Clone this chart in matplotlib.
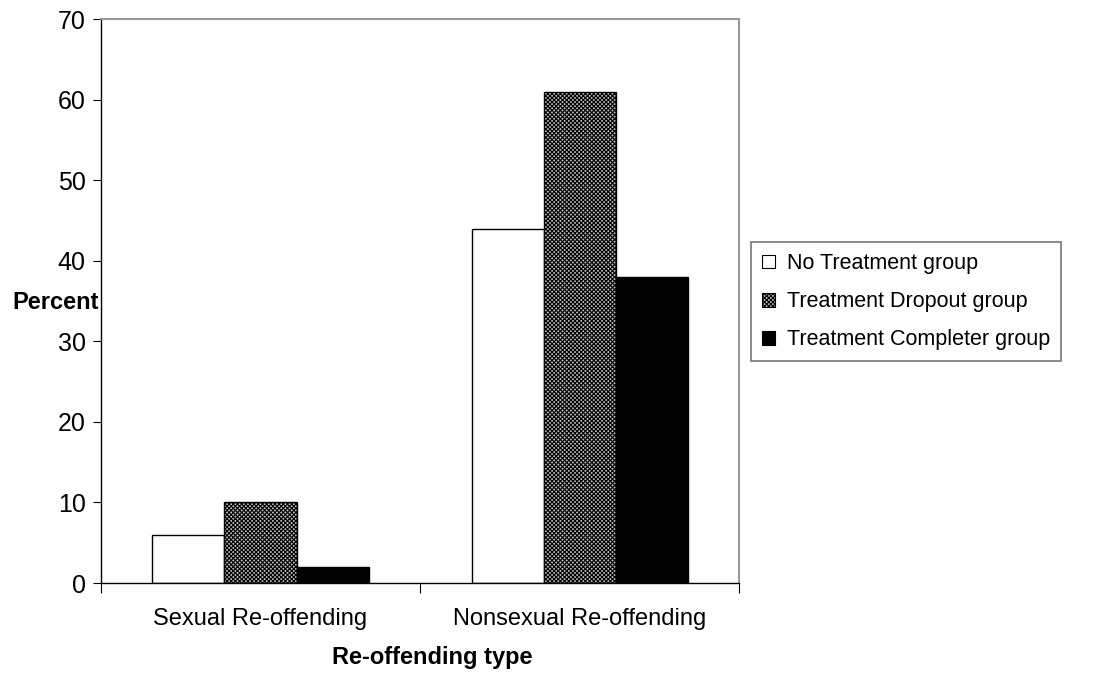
import numpy as np
import matplotlib
matplotlib.use("Agg")
import matplotlib.pyplot as plt
from matplotlib.patches import Patch

plt.rcParams['font.family'] = ['Liberation Sans', 'DejaVu Sans']
plt.rcParams['hatch.linewidth'] = 0.8

categories = ["Sexual Re-offending", "Nonsexual Re-offending"]
groups = ["No Treatment group", "Treatment Dropout group", "Treatment Completer group"]
no_treatment = [6, 44]
dropout = [10, 61]
completer = [2, 38]

fig = plt.figure(figsize=(10.97, 6.73), dpi=100)
ax = fig.add_axes([0.092, 0.1337, 0.582, 0.838])

x = np.arange(len(categories))
w = 0.226
ax.bar(x - w, no_treatment, w, facecolor='white', edgecolor='black', linewidth=1)
ax.bar(x, dropout, w, facecolor='#bbbbbb', edgecolor='black', hatch='xxxxxxxx', linewidth=1)
ax.bar(x + w, completer, w, facecolor='black', edgecolor='black', linewidth=1)

ax.set_xlim(-0.5, 1.5)
ax.set_ylim(0, 70)
ax.set_yticks(range(0, 71, 10))
ax.set_xticks([-0.5, 0.5, 1.5])
ax.set_xticklabels([])
ax.set_xticks(x, minor=True)
ax.set_xticklabels(categories, minor=True)
ax.tick_params(axis='x', which='minor', length=0, pad=18, labelsize=17)
ax.tick_params(axis='x', which='major', length=7, direction='out')
ax.tick_params(axis='y', length=6, direction='out', labelsize=18, pad=5)

for s in ['top', 'right']:
    ax.spines[s].set_color('#999999')
    ax.spines[s].set_linewidth(1.5)
for s in ['left', 'bottom']:
    ax.spines[s].set_color('black')
    ax.spines[s].set_linewidth(1)

ax.set_xlabel("Re-offending type", fontsize=17, fontweight='bold')
ax.xaxis.set_label_coords(0.519, -0.112)
fig.text(0.011, 0.551, "Percent", fontsize=17, fontweight='bold', va='center', ha='left')

handles = [
    Patch(facecolor='white', edgecolor='black', linewidth=0.8),
    Patch(facecolor='#bbbbbb', edgecolor='black', hatch='xxxxxxxx', linewidth=0.8),
    Patch(facecolor='black', edgecolor='black', linewidth=0.8),
]
leg = fig.legend(handles, groups, loc='upper left', bbox_to_anchor=(0.685, 0.64),
                 fontsize=15.5, frameon=True, fancybox=False, edgecolor='#555555',
                 handlelength=0.6, handleheight=0.6, handletextpad=0.55,
                 labelspacing=0.8, borderpad=0.5, borderaxespad=0)
leg.get_frame().set_linewidth(1.2)

fig.savefig("out.png", dpi=100, facecolor='white')
